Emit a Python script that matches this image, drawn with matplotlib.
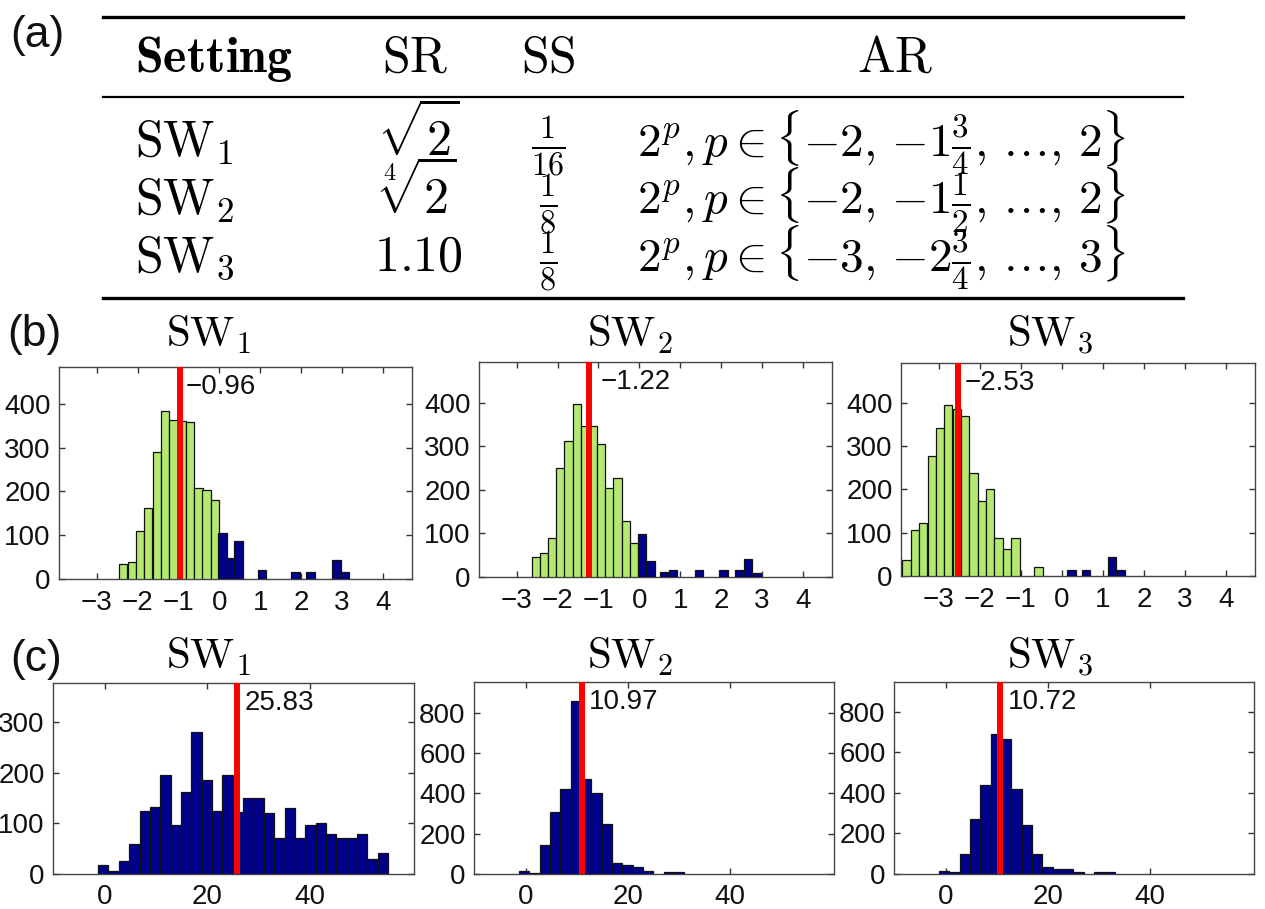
import matplotlib
matplotlib.use("Agg")
import matplotlib.pyplot as plt
from matplotlib.lines import Line2D

plt.rcParams['mathtext.fontset'] = 'cm'
plt.rcParams['font.family'] = ['Liberation Sans', 'DejaVu Sans']

# ---------------- (a) table ----------------
table_header = [r'$\mathbf{Setting}$', r'$\mathrm{SR}$', r'$\mathrm{SS}$', r'$\mathrm{AR}$']
table_setting = [r'$\mathrm{SW}_1$', r'$\mathrm{SW}_2$', r'$\mathrm{SW}_3$']
table_sr = [r'$\sqrt{2}$', r'$\sqrt[4]{2}$', r'$1.10$']
table_ss = [r'$\frac{1}{16}$', r'$\frac{1}{8}$', r'$\frac{1}{8}$']
table_ar = [r'$2^p, p \in \{{-2},\, {-1}\frac{3}{4},\, \ldots,\, 2\}$',
            r'$2^p, p \in \{{-2},\, {-1}\frac{1}{2},\, \ldots,\, 2\}$',
            r'$2^p, p \in \{{-3},\, {-2}\frac{3}{4},\, \ldots,\, 3\}$']

# ---------------- (b) histograms ----------------
b_titles = [r'$\mathrm{SW}_1$', r'$\mathrm{SW}_2$', r'$\mathrm{SW}_3$']
b1_green_x = [-2.35, -2.14, -1.94, -1.74, -1.53, -1.33, -1.12, -0.92, -0.71, -0.51, -0.31, -0.10]
b1_green_n = [34, 38, 110, 162, 290, 383, 363, 360, 358, 208, 204, 180]
b1_blue_x = [0.08, 0.28, 0.47, 1.05, 1.86, 2.23, 2.86, 3.06]
b1_blue_n = [106, 48, 87, 20, 15, 15, 44, 15]
b1_mean = -0.96

b2_green_x = [-2.53, -2.33, -2.13, -1.93, -1.73, -1.53, -1.33, -1.13, -0.93, -0.73, -0.53, -0.33, -0.13]
b2_green_n = [46, 55, 90, 250, 312, 397, 346, 346, 306, 205, 226, 129, 79]
b2_blue_x = [0.07, 0.28, 0.60, 0.82, 1.46, 2.06, 2.43, 2.65, 2.86]
b2_blue_n = [98, 36, 11, 15, 15, 15, 15, 41, 10]
b2_mean = -1.22

b3_green_x = [-3.79, -3.58, -3.38, -3.17, -2.97, -2.77, -2.56, -2.36, -2.15, -1.95, -1.75, -1.54, -1.34, -1.13, -0.57]
b3_green_n = [38, 106, 122, 278, 342, 395, 385, 369, 238, 174, 200, 87, 62, 87, 20]
b3_blue_x = [0.24, 0.59, 1.23, 1.44]
b3_blue_n = [15, 15, 45, 15]
b3_mean = -2.53

b_xticks = [-3, -2, -1, 0, 1, 2, 3, 4]
b_yticks = [0, 100, 200, 300, 400]

# ---------------- (c) histograms ----------------
c_titles = [r'$\mathrm{SW}_1$', r'$\mathrm{SW}_2$', r'$\mathrm{SW}_3$']
c1_x = [-0.29, 1.73, 3.75, 5.77, 7.79, 9.81, 11.83, 13.85, 15.87, 17.89, 19.91, 21.93, 23.95, 25.97,
        27.99, 30.01, 32.03, 34.05, 36.07, 38.09, 40.11, 42.13, 44.15, 46.17, 48.19, 50.21, 52.23, 54.25]
c1_n = [18, 6, 26, 59, 124, 132, 196, 97, 162, 280, 185, 124, 196, 123,
        150, 150, 120, 71, 131, 71, 97, 100, 78, 71, 71, 78, 29, 41]
c1_mean = 25.83

c2_x = [-0.29, 1.73, 3.75, 5.77, 7.79, 9.81, 11.83, 13.85, 15.87, 17.89, 19.91, 21.93, 23.95, 27.99, 30.01]
c2_n = [15, 6, 145, 305, 420, 860, 470, 400, 248, 55, 45, 35, 15, 8, 8]
c2_mean = 10.97

c3_x = [-0.29, 1.73, 3.75, 5.77, 7.79, 9.81, 11.83, 13.85, 15.87, 17.89, 19.91, 21.93, 23.95, 25.97, 30.01, 32.03]
c3_n = [15, 8, 100, 270, 440, 690, 665, 420, 240, 100, 35, 25, 25, 10, 8, 8]
c3_mean = 10.72

c_xticks = [0, 20, 40]
c1_yticks = [0, 100, 200, 300]
c23_yticks = [0, 200, 400, 600, 800]

# ---------------- styling ----------------
W, H = 1265, 909
GREEN = '#b5e870'
BLUE = '#00008b'
RED = '#ff0000'
EDGE = '#111111'
SPINE = '#444444'
TICKFS = 20

fig = plt.figure(figsize=(W / 100, H / 100), dpi=100)


def fx(x):
    return x / W


def fy(y):
    return 1 - y / H


def add_axes(l, t, r, b):
    return fig.add_axes([fx(l), fy(b), (r - l) / W, (b - t) / H])


def style(ax, xlim, ylim, xticks, yticks, xpad):
    ax.set_xlim(*xlim)
    ax.set_ylim(*ylim)
    ax.set_xticks(xticks)
    ax.set_yticks(yticks)
    ax.tick_params(direction='in', length=4, width=1, top=True, right=True,
                   labelsize=TICKFS, color='#333333', labelcolor='#111111')
    ax.tick_params(axis='x', pad=xpad)
    ax.tick_params(axis='y', pad=6)
    for s in ax.spines.values():
        s.set_color(SPINE)
        s.set_linewidth(1.0)


def mean_line(ax, m, dx):
    ax.axvline(m, color=RED, lw=4.3, zorder=5)
    ax.annotate(f'{m:.2f}'.replace('-', '\u2212'), xy=(m, 1), xycoords=('data', 'axes fraction'),
                xytext=(dx, -5), textcoords='offset points', ha='left', va='top',
                fontsize=TICKFS, color='#111111', zorder=6)


# (b) row
b_boxes = [(59, 367, 412, 579), (479, 362, 832, 577), (901, 363, 1255, 576)]
b_ylims = [484, 493, 492]
b_data = [(b1_green_x, b1_green_n, b1_blue_x, b1_blue_n, b1_mean),
          (b2_green_x, b2_green_n, b2_blue_x, b2_blue_n, b2_mean),
          (b3_green_x, b3_green_n, b3_blue_x, b3_blue_n, b3_mean)]
b_dx = [4, 8, 5]
for box, ylim_top, (gx, gn, bx, bn, m), dx in zip(b_boxes, b_ylims, b_data, b_dx):
    ax = add_axes(*box)
    ax.bar(gx, gn, width=0.204, color=GREEN, edgecolor=EDGE, linewidth=0.9, zorder=3)
    ax.bar(bx, bn, width=0.204, color=BLUE, edgecolor=EDGE, linewidth=0.9, zorder=3)
    mean_line(ax, m, dx)
    style(ax, (-3.92, 4.71), (0, ylim_top), b_xticks, b_yticks, 8)

# (c) row
c_boxes = [(53, 683, 414, 874), (474, 682, 834, 874), (894, 682, 1254, 874)]
c_ylims = [377, 952, 948]
c_data = [(c1_x, c1_n, c1_mean, c1_yticks), (c2_x, c2_n, c2_mean, c23_yticks),
          (c3_x, c3_n, c3_mean, c23_yticks)]
for box, ylim_top, (cx, cn, m, yt) in zip(c_boxes, c_ylims, c_data):
    ax = add_axes(*box)
    ax.bar(cx, cn, width=2.02, color=BLUE, edgecolor=EDGE, linewidth=0.9, zorder=3)
    mean_line(ax, m, 5)
    style(ax, (-10.1, 60.3), (0, ylim_top), c_xticks, yt, 7)

# titles
TITLEFS = 31
for x, t in zip([208, 630, 1050], b_titles):
    fig.text(fx(x), fy(347), t, ha='center', va='baseline', fontsize=TITLEFS)
for x, t in zip([208, 630, 1050], c_titles):
    fig.text(fx(x), fy(669), t, ha='center', va='baseline', fontsize=TITLEFS)

# panel labels
for (x, y), lab in zip([(37, 35), (34, 334), (36, 660)], ['(a)', '(b)', '(c)']):
    fig.text(fx(x), fy(y), lab, ha='center', va='center', fontsize=32, color='#111111')

# table rules
for y, lw in [(17, 2.4), (97, 1.6), (298, 2.4)]:
    fig.add_artist(Line2D([fx(103), fx(1183)], [fy(y), fy(y)], color='black', lw=lw,
                          transform=fig.transFigure))

TABFS = 36
FRACFS = 33
fig.text(fx(135), fy(72), table_header[0], ha='left', va='baseline', fontsize=TABFS)
for x, t in zip([415, 548, 895], table_header[1:]):
    fig.text(fx(x), fy(72), t, ha='center', va='baseline', fontsize=TABFS)
for yb, s, sr, ss, ar in zip([156, 214, 271], table_setting, table_sr, table_ss, table_ar):
    fig.text(fx(135), fy(yb), s, ha='left', va='baseline', fontsize=TABFS)
    fig.text(fx(418), fy(yb), sr, ha='center', va='baseline', fontsize=TABFS)
    fig.text(fx(548), fy(yb), ss, ha='center', va='baseline', fontsize=FRACFS)
    fig.text(fx(881), fy(yb), ar, ha='center', va='baseline', fontsize=FRACFS + 1)

fig.savefig('out.png', dpi=100)
